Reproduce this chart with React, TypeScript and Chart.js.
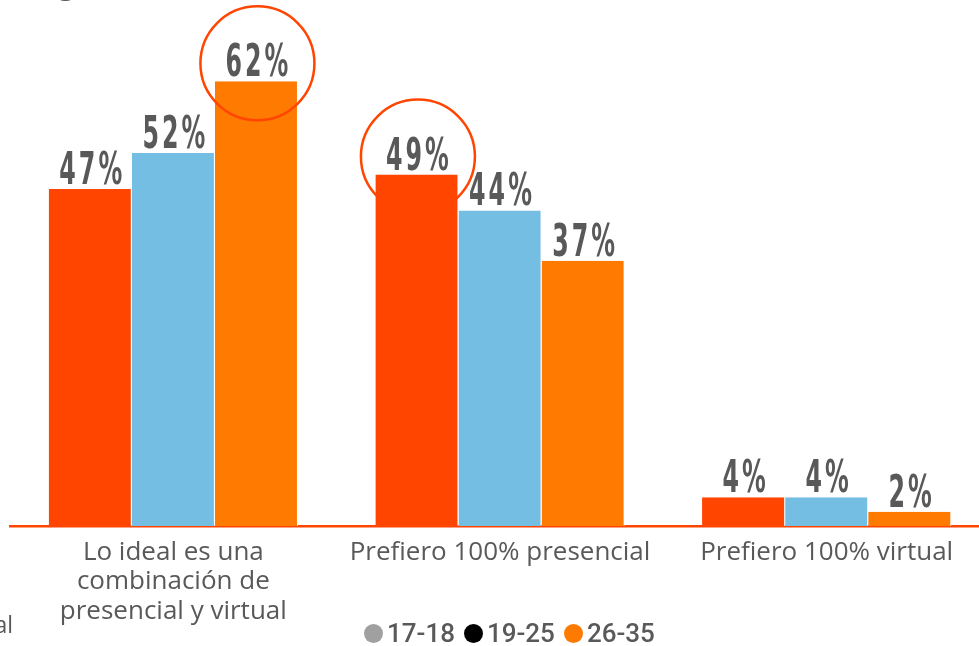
import { useEffect, useRef } from "react";
import { Chart, registerables } from "chart.js";

Chart.register(...registerables);

const categories = [
  ["Lo ideal es una", "combinación de", "presencial y virtual"],
  "Prefiero 100% presencial",
  "Prefiero 100% virtual",
];
const seriesNames = ["17-18", "19-25", "26-35"];
const age1718 = [47, 49, 4];
const age1925 = [52, 44, 4];
const age2635 = [62, 37, 2];
const barColors = ["#ff4500", "#74bde3", "#ff7a00"];
const legendColors = ["#a0a0a0", "#000000", "#ff7a00"];
// which dataset gets a ring in each category (-1 = none)
const ringed = [2, 0, -1];

const TEXT = "#595959";

const valueLabels = {
  id: "valueLabels",
  afterDatasetsDraw(chart: Chart) {
    const { ctx } = chart;
    ctx.save();
    ctx.fillStyle = TEXT;
    ctx.font = "bold 44px 'DejaVu Sans Condensed', 'DejaVu Sans', sans-serif";
    ctx.textAlign = "center";
    ctx.textBaseline = "alphabetic";
    (ctx as any).letterSpacing = "5px";
    chart.data.datasets.forEach((ds, di) => {
      chart.getDatasetMeta(di).data.forEach((bar: any, i) => {
        const txt = `${ds.data[i]}%`;
        ctx.save();
        ctx.translate(bar.x + 2, bar.y - 5);
        ctx.scale(0.6, 1);
        ctx.fillText(txt, 0, 0);
        ctx.restore();
      });
    });
    (ctx as any).letterSpacing = "0px";
    // rings
    ctx.strokeStyle = "#ff4500";
    ctx.lineWidth = 2.5;
    ringed.forEach((di, i) => {
      if (di < 0) return;
      const bar: any = chart.getDatasetMeta(di).data[i];
      ctx.beginPath();
      ctx.arc(bar.x + 1, bar.y - 18, 57, 0, Math.PI * 2);
      ctx.stroke();
    });
    ctx.restore();
  },
};

export default function App() {
  const canvasRef = useRef<HTMLCanvasElement>(null);

  useEffect(() => {
    if (!canvasRef.current) return;
    const series = [age1718, age1925, age2635];
    const chart = new Chart(canvasRef.current, {
      type: "bar",
      data: {
        labels: categories,
        datasets: series.map((d, i) => ({
          label: seriesNames[i],
          data: d,
          backgroundColor: barColors[i],
          borderColor: "#ffffff",
          borderWidth: { left: 0, right: 1, top: 0, bottom: 0 },
          borderSkipped: false,
          barPercentage: 1,
          categoryPercentage: 0.763,
        })),
      },
      options: {
        animation: false,
        responsive: true,
        maintainAspectRatio: false,
        layout: { padding: { left: 10, right: 10, top: 24, bottom: 0 } },
        plugins: { legend: { display: false }, tooltip: { enabled: false } },
        scales: {
          y: { display: false, min: 0, max: 70 },
          x: {
            grid: { display: false },
            border: { display: true, color: "#ff4500", width: 2.5 },
            ticks: {
              color: TEXT,
              padding: 4,
              maxRotation: 0,
              autoSkip: false,
              font: { family: "'Open Sans', sans-serif", size: 26, lineHeight: 1.13 },
            },
            afterFit: (s: any) => {
              s.height = 120;
            },
          },
        },
      },
      plugins: [valueLabels],
    });
    return () => chart.destroy();
  }, []);

  return (
    <div
      style={{
        position: "fixed",
        left: 0,
        top: 0,
        width: 979,
        height: 646,
        overflow: "hidden",
        background: "#fff",
      }}
    >
      <div style={{ position: "absolute", left: 0, top: 0, width: 1000, height: 646 }}>
        <canvas ref={canvasRef} />
      </div>

      {/* clipped fragments of surrounding slide text */}
      <div
        style={{
          position: "absolute",
          left: 58,
          top: -38,
          fontFamily: "'Open Sans', sans-serif",
          fontSize: 30,
          color: TEXT,
        }}
      >
        g
      </div>
      <div
        style={{
          position: "absolute",
          left: -70,
          width: 83,
          top: 608,
          textAlign: "right",
          fontFamily: "'Open Sans', sans-serif",
          fontSize: 23,
          color: TEXT,
        }}
      >
        virtual
      </div>

      {/* Legend */}
      <div
        style={{
          position: "absolute",
          left: 364,
          top: 617,
          height: 32,
          display: "flex",
          alignItems: "center",
          fontFamily: "Roboto, sans-serif",
          fontWeight: 500,
          fontSize: 26,
          color: TEXT,
        }}
      >
        {seriesNames.map((n, i) => (
          <span key={n} style={{ display: "flex", alignItems: "center", marginRight: 9 }}>
            <span
              style={{
                width: 19,
                height: 19,
                borderRadius: "50%",
                background: legendColors[i],
                marginRight: 4,
                display: "inline-block",
              }}
            />
            {n}
          </span>
        ))}
      </div>
    </div>
  );
}
